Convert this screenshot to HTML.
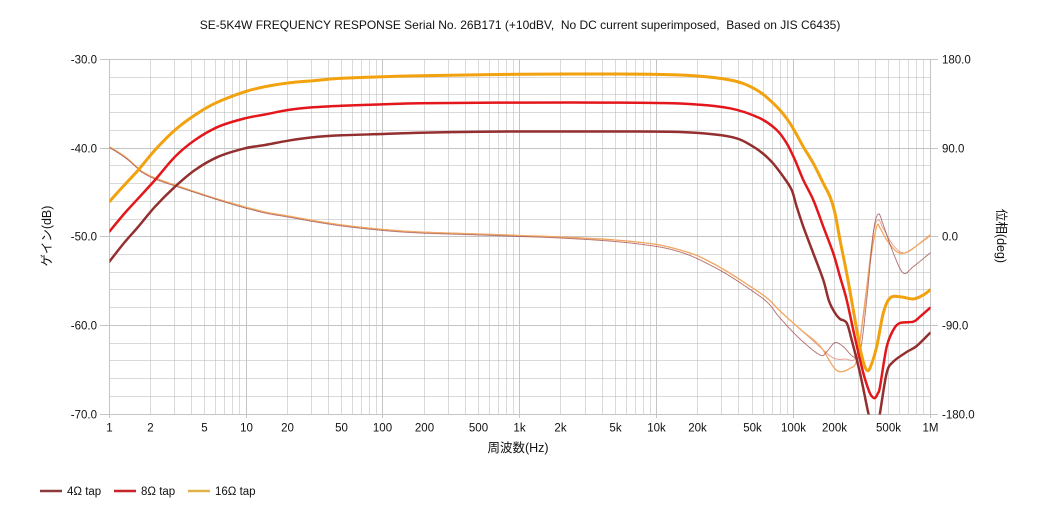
<!DOCTYPE html>
<html><head><meta charset="utf-8"><style>
html,body{margin:0;padding:0;background:#fff;}
svg{display:block;}
text{font-family:"Liberation Sans","Noto Sans CJK JP",sans-serif;fill:#111;}
</style></head><body>
<svg id="chart" width="1040" height="520" viewBox="0 0 1040 520" xmlns="http://www.w3.org/2000/svg">
<rect width="1040" height="520" fill="#fff"/>
<defs><clipPath id="pc"><rect x="109.5" y="59" width="821" height="355.5"/></clipPath></defs>
<text x="520" y="29" font-size="12" text-anchor="middle" xml:space="preserve">SE-5K4W FREQUENCY RESPONSE Serial No. 26B171 (+10dBV,  No DC current superimposed,  Based on JIS C6435)</text>
<g stroke="#b4b4b4" stroke-width="1" stroke-dasharray="1 1" fill="none">
<path d="M150.5 59.5V414M174.5 59.5V414M191.5 59.5V414M204.5 59.5V414M215.5 59.5V414M224.5 59.5V414M232.5 59.5V414M239.5 59.5V414
M287.5 59.5V414M311.5 59.5V414M328.5 59.5V414M341.5 59.5V414M352.5 59.5V414M361.5 59.5V414M369.5 59.5V414M376.5 59.5V414
M424.5 59.5V414M448.5 59.5V414M465.5 59.5V414M478.5 59.5V414M489.5 59.5V414M498.5 59.5V414M506.5 59.5V414M513.5 59.5V414
M560.5 59.5V414M585.5 59.5V414M602.5 59.5V414M615.5 59.5V414M626.5 59.5V414M635.5 59.5V414M643.5 59.5V414M650.5 59.5V414
M697.5 59.5V414M721.5 59.5V414M738.5 59.5V414M752.5 59.5V414M763.5 59.5V414M772.5 59.5V414M780.5 59.5V414M787.5 59.5V414
M834.5 59.5V414M858.5 59.5V414M875.5 59.5V414M888.5 59.5V414M899.5 59.5V414M908.5 59.5V414M916.5 59.5V414M923.5 59.5V414"/>
<path d="M109.5 77.5H930M109.5 94.5H930M109.5 112.5H930M109.5 130.5H930M109.5 165.5H930M109.5 183.5H930M109.5 201.5H930M109.5 219.5H930M109.5 254.5H930M109.5 272.5H930M109.5 289.5H930M109.5 307.5H930M109.5 343.5H930M109.5 360.5H930M109.5 378.5H930M109.5 396.5H930"/>
</g>
<g stroke="#c4c4c4" stroke-width="1" fill="none">
<path d="M100 59.5H938M100 148.5H938M100 236.5H938M100 325.5H938M100 414.5H938"/>
<path d="M109.5 59.5V418M246.5 59.5V418M382.5 59.5V418M519.5 59.5V418M656.5 59.5V418M793.5 59.5V418M930.5 59.5V418"/>
</g>
<g font-size="11.5" text-anchor="end">
<text x="97" y="63.5">-30.0</text>
<text x="97" y="152.5">-40.0</text>
<text x="97" y="240.5">-50.0</text>
<text x="97" y="329.5">-60.0</text>
<text x="97" y="418.5">-70.0</text>
</g>
<g font-size="11.5" text-anchor="start">
<text x="942" y="63.5">180.0</text>
<text x="942" y="152.5">90.0</text>
<text x="942" y="240.5">0.0</text>
<text x="942" y="329.5">-90.0</text>
<text x="942" y="418.5">-180.0</text>
</g>
<g font-size="11.5" text-anchor="middle">
<text x="109.5" y="431.5">1</text>
<text x="150.5" y="431.5">2</text>
<text x="204.5" y="431.5">5</text>
<text x="246.5" y="431.5">10</text>
<text x="287.5" y="431.5">20</text>
<text x="341.5" y="431.5">50</text>
<text x="382.5" y="431.5">100</text>
<text x="424.5" y="431.5">200</text>
<text x="478.5" y="431.5">500</text>
<text x="519.5" y="431.5">1k</text>
<text x="560.5" y="431.5">2k</text>
<text x="615.5" y="431.5">5k</text>
<text x="656.5" y="431.5">10k</text>
<text x="697.5" y="431.5">20k</text>
<text x="752.5" y="431.5">50k</text>
<text x="793.5" y="431.5">100k</text>
<text x="834.5" y="431.5">200k</text>
<text x="888.5" y="431.5">500k</text>
<text x="930.5" y="431.5">1M</text>
</g>
<text x="518" y="452" font-size="12.5" text-anchor="middle">周波数(Hz)</text>
<text transform="translate(51,236) rotate(-90)" font-size="12.5" text-anchor="middle">ゲイン(dB)</text>
<text transform="translate(997,236) rotate(90)" font-size="12.5" text-anchor="middle">位相(deg)</text>

<g clip-path="url(#pc)" fill="none" stroke-linejoin="round" stroke-linecap="round">
<polyline class="s" stroke="#e07a70" stroke-width="1" opacity="0.7" points="109.3,146.7 125,156.7 138.3,168.3 142,171.5 155,178 175,185 195,191.7 215,198.3 238,205 265,212 288,216 313,220.5 342,225 383.3,229.5 420,232 480,234 520,235.5 560,237 615,240 656.7,244.5 680,250 698,256 723,269 745,283 767,298 780,311 800,329 820,347 833.3,358 845,359 856.7,355 865,300 873.3,233 878.3,220 883,228 893,245 903,253 913.3,248 930,236"/>
<polyline class="s" stroke="#f2a860" stroke-width="1.3" points="109.3,146.7 125,156.7 138.3,168.3 142,171.5 155,178 175,185 195,191.7 215,198.3 238,205 265,212 288,216 313,220.5 342,225 383.3,229.5 420,232 480,234 520,235.5 560,237 615,240 656.7,244.5 680,250 698,256 723,269 745,283 767,298 780,311 800,329 820,346 833.3,366.7 840,371.7 850,368.3 856.7,360 863.3,316.7 870,263 876.7,226.7 880,228 886.7,240 896.7,251.7 905,253 913.3,248.3 930,235"/>
<polyline class="s" stroke="#9c4a48" stroke-width="1" stroke-dasharray="1 1" opacity="0.8" points="109.3,147.5 125,157.5 138.3,169 142,172.3 155,179 175,186 195,192.5 215,199 238,206 265,213 288,217 313,221.5 342,226 383.3,230.5 420,233 480,235 520,236.5 560,238 615,241.5 656.7,246.5 680,252 698,259 723,272 745,286 767,302 780,318 800,339 820,355 826.7,351.7 835,342.7 843.3,346.7 853.3,356.7 860,353 866.7,300 873.3,233 878.3,214 883.3,225 893.3,253 903.3,273 913.3,266.7 930,253"/>
<polyline class="s" stroke="#93302f" stroke-width="2.5" points="109.3,261.7 124,243 138.3,226.7 155,206.7 175,186.7 195,170 218.3,156.7 245,148.3 265,145 288,140.7 313,137.3 342,135.3 383,134 420,132.7 480,131.8 520,131.5 600,131.5 680,132 730,136.7 753.3,146.7 770,160 783.3,176.7 791.7,190 796.7,206.7 803.3,226.7 813.3,253.3 823.3,280 829,301 835,313 840,319 846.7,323 851.7,340 860,373 868.3,413 872,425 878,425 880,413 886.7,373 893.3,361.7 906.7,352 916.7,346 930,333"/>
<polyline class="s" stroke="#e3171b" stroke-width="2.5" points="109.3,231.7 124,214 138.3,198.3 155,180 175,156.7 195,140 218.3,126.7 245,118.3 265,114.5 288,110 313,107.3 342,105.7 383,104.3 420,103.3 480,102.8 520,102.6 600,102.6 680,103.5 730,108.3 760,118.3 776.7,130 786.7,143.3 795,160 803.3,180 813.3,200 823.3,226.7 833.3,253.3 840,276.7 846.7,300 855,338 863.3,373 869,391 872,396.5 875,398 878,393 880,386.7 886.7,346.7 893.3,330 900,323 913.3,321.7 920,316.7 930,308"/>
<polyline class="s" stroke="#f2a20e" stroke-width="3" points="109.3,201.7 123,186.5 138.3,170 155,150 175,130 195,115 215,103.3 245,91.7 265,86.7 288,83 313,80.7 342,78.3 383,76.7 420,75.7 480,74.8 520,74.3 600,74 680,75 730,80 756.7,90 776.7,106.7 790,123.3 803.3,146.7 813.3,163.3 823.3,183.3 830,196.7 835,213.3 840,240 846.7,273.3 853.3,310 860,348 864,364 866.7,370 870,368 876.7,346.7 883.3,313 890,298 900,296.7 913.3,299 923.3,295 930,290"/>
</g>
<g stroke-width="2.5">
<line x1="40" y1="491" x2="62" y2="491" stroke="#8e3a39"/>
<line x1="114" y1="491" x2="136" y2="491" stroke="#c62428"/>
<line x1="188" y1="491" x2="210" y2="491" stroke="#e2b24a"/>
</g>
<g font-size="11.5">
<text x="67" y="495">4Ω tap</text>
<text x="141" y="495">8Ω tap</text>
<text x="215" y="495">16Ω tap</text>
</g>
</svg>
<script>
(function(){
  var NS="http://www.w3.org/2000/svg";
  var pls=document.querySelectorAll("polyline.s");
  for(var i=0;i<pls.length;i++){
    var pl=pls[i];
    var raw=pl.getAttribute("points").trim().split(/\s+/);
    var p=raw.map(function(s){var a=s.split(",");return [parseFloat(a[0]),parseFloat(a[1])];});
    var d="M"+p[0][0]+" "+p[0][1];
    for(var k=0;k<p.length-1;k++){
      var p0=p[k>0?k-1:k],p1=p[k],p2=p[k+1],p3=p[k+2<p.length?k+2:k+1];
      var c1x=p1[0]+(p2[0]-p0[0])/6,c1y=p1[1]+(p2[1]-p0[1])/6;
      var c2x=p2[0]-(p3[0]-p1[0])/6,c2y=p2[1]-(p3[1]-p1[1])/6;
      d+=" C"+c1x.toFixed(2)+" "+c1y.toFixed(2)+" "+c2x.toFixed(2)+" "+c2y.toFixed(2)+" "+p2[0]+" "+p2[1];
    }
    var path=document.createElementNS(NS,"path");
    for(var j=0;j<pl.attributes.length;j++){
      var at=pl.attributes[j];
      if(at.name!=="points"&&at.name!=="class")path.setAttribute(at.name,at.value);
    }
    path.setAttribute("d",d);
    pl.parentNode.replaceChild(path,pl);
  }
})();
</script>
</body></html>
